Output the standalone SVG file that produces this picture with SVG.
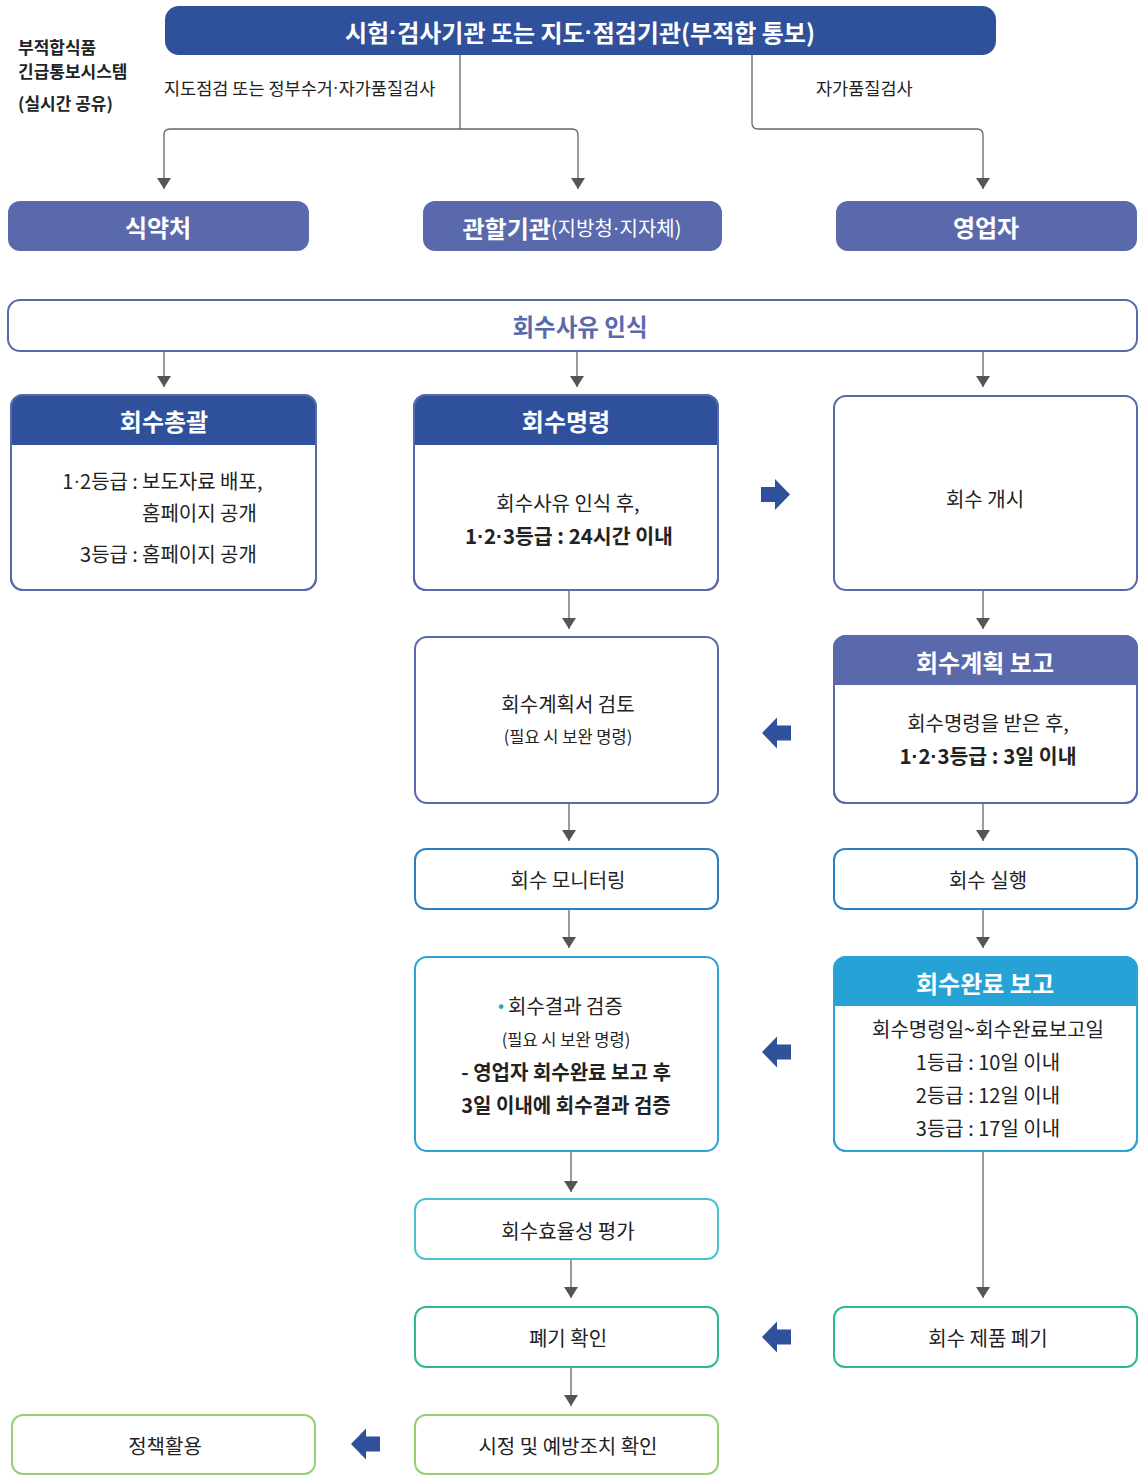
<svg xmlns="http://www.w3.org/2000/svg" width="1143" height="1476" viewBox="0 0 1143 1476">
<style>
text{font-family:"Noto Sans CJK KR","Noto Sans",sans-serif;dominant-baseline:central;fill:#222}
.c{text-anchor:middle}
.b{font-weight:700}
.w{fill:#fff}
.t{font-size:20px}
.s{font-size:16.5px}
.h{font-size:24px;font-weight:700;fill:#fff;text-anchor:middle}
.d{font-family:"Liberation Sans",sans-serif}
.conn{fill:none;stroke:#666;stroke-width:1.3}
.box{fill:#fff;stroke-width:2}
.ol{fill:none;stroke-width:2}
.blk{fill:#2f519c}
</style>
<defs>
<marker id="ah" markerUnits="userSpaceOnUse" markerWidth="12" markerHeight="16" refX="11" refY="7" orient="auto">
<path d="M0,0 L11,7 L0,14 z" fill="#555"/>
</marker>
<path id="la" d="M0,0 L15,-15.5 L15,-7.5 L29,-7.5 L29,7.5 L15,7.5 L15,15.5 z"/>
</defs>

<g id="legend">
<text x="18" y="46" class="b" style="font-size:17px">부적합식품</text>
<text x="18" y="70" class="b" style="font-size:17px">긴급통보시스템</text>
<text x="18" y="102" class="b" style="font-size:17px">(실시간 공유)</text>
</g>

<g id="n-source">
<rect x="165" y="6" width="831" height="49" rx="14" fill="#2f519c"/>
<text x="580" y="31" class="c b w" style="font-size:24px">시험<tspan class="d">·</tspan>검사기관 또는 지도<tspan class="d">·</tspan>점검기관(부적합 통보)</text>
</g>

<g id="connectors">
<path class="conn" d="M460,55 V129"/>
<path class="conn" marker-end="url(#ah)" d="M460,129 H170 Q164,129 164,135 V189"/>
<path class="conn" marker-end="url(#ah)" d="M460,129 H572 Q578,129 578,135 V189"/>
<path class="conn" marker-end="url(#ah)" d="M752,55 V123 Q752,129 758,129 H977 Q983,129 983,135 V189"/>
<path class="conn" marker-end="url(#ah)" d="M164,351 V387"/>
<path class="conn" marker-end="url(#ah)" d="M577,351 V387"/>
<path class="conn" marker-end="url(#ah)" d="M983,351 V387"/>
<path class="conn" marker-end="url(#ah)" d="M569,590 V629"/>
<path class="conn" marker-end="url(#ah)" d="M983,590 V629"/>
<path class="conn" marker-end="url(#ah)" d="M569,803 V841"/>
<path class="conn" marker-end="url(#ah)" d="M983,803 V841"/>
<path class="conn" marker-end="url(#ah)" d="M569,909 V948"/>
<path class="conn" marker-end="url(#ah)" d="M983,909 V948"/>
<path class="conn" marker-end="url(#ah)" d="M571,1151 V1192"/>
<path class="conn" marker-end="url(#ah)" d="M983,1151 V1298"/>
<path class="conn" marker-end="url(#ah)" d="M571,1259 V1298"/>
<path class="conn" marker-end="url(#ah)" d="M571,1367 V1406"/>
<text x="164" y="87" style="font-size:17.5px">지도점검 또는 정부수거<tspan class="d">·</tspan>자가품질검사</text>
<text x="816" y="87" style="font-size:17.5px">자가품질검사</text>
<path class="blk" d="M790,494.5 L775,479 L775,487 L761,487 L761,502 L775,502 L775,510 z"/>
<use href="#la" class="blk" x="762" y="733"/>
<use href="#la" class="blk" x="762" y="1052"/>
<use href="#la" class="blk" x="762" y="1337"/>
<use href="#la" class="blk" x="351" y="1444"/>
</g>

<g id="n-mfds">
<rect x="8" y="201" width="301" height="50" rx="12" fill="#5a69ab"/>
<text x="158" y="226" class="h">식약처</text>
</g>
<g id="n-local">
<rect x="423" y="201" width="299" height="50" rx="12" fill="#5a69ab"/>
<text x="572" y="227" class="c w"><tspan class="b" style="font-size:24px">관할기관</tspan><tspan style="font-size:20px">(지방청<tspan class="d">·</tspan>지자체)</tspan></text>
</g>
<g id="n-biz">
<rect x="836" y="201" width="301" height="50" rx="12" fill="#5a69ab"/>
<text x="986" y="226" class="h">영업자</text>
</g>

<g id="n-recognize">
<rect x="8" y="300" width="1129" height="51" rx="12" fill="#fff" stroke="#5a69ab" stroke-width="2"/>
<text x="580" y="326" class="c b" style="font-size:23.5px;fill:#5a69ab">회수사유 인식</text>
</g>

<g id="n-overall">
<rect x="11" y="395" width="305" height="195" rx="12" class="box" stroke="#5a69ab"/>
<path d="M11,445 V407 Q11,395 23,395 H304 Q316,395 316,407 V445 z" fill="#2f519c"/>
<rect x="11" y="395" width="305" height="195" rx="12" class="ol" stroke="#5a69ab"/>
<text x="164" y="420" class="h">회수총괄</text>
<text x="128" y="480" class="t" style="text-anchor:end">1<tspan class="d">·</tspan>2등급</text>
<text x="135" y="480" class="t c">:</text>
<text x="142" y="480" class="t">보도자료 배포,</text>
<text x="142" y="512" class="t">홈페이지 공개</text>
<text x="128" y="553" class="t" style="text-anchor:end">3등급</text>
<text x="135" y="553" class="t c">:</text>
<text x="142" y="553" class="t">홈페이지 공개</text>
</g>

<g id="n-order">
<rect x="414" y="395" width="304" height="195" rx="12" class="box" stroke="#5a69ab"/>
<path d="M414,445 V407 Q414,395 426,395 H706 Q718,395 718,407 V445 z" fill="#2f519c"/>
<rect x="414" y="395" width="304" height="195" rx="12" class="ol" stroke="#5a69ab"/>
<text x="566" y="420" class="h">회수명령</text>
<text x="568" y="502" class="t c">회수사유 인식 후,</text>
<text x="569" y="535" class="t c b" style="font-size:20.5px">1<tspan class="d">·</tspan>2<tspan class="d">·</tspan>3등급 : 24시간 이내</text>
</g>

<g id="n-start">
<rect x="834" y="396" width="303" height="194" rx="12" class="box" stroke="#5a69ab"/>
<text x="985" y="498" class="t c">회수 개시</text>
</g>

<g id="n-review">
<rect x="415" y="637" width="303" height="166" rx="12" class="box" stroke="#5a69ab"/>
<text x="568" y="703" class="t c">회수계획서 검토</text>
<text x="568" y="736" class="s c">(필요 시 보완 명령)</text>
</g>

<g id="n-plan">
<rect x="834" y="636" width="303" height="167" rx="12" class="box" stroke="#5a69ab"/>
<path d="M834,685 V648 Q834,636 846,636 H1125 Q1137,636 1137,648 V685 z" fill="#5a69ab"/>
<rect x="834" y="636" width="303" height="167" rx="12" class="ol" stroke="#5a69ab"/>
<text x="985" y="661" class="h">회수계획 보고</text>
<text x="988" y="722" class="t c">회수명령을 받은 후,</text>
<text x="988" y="755" class="t c b" style="font-size:20.5px">1<tspan class="d">·</tspan>2<tspan class="d">·</tspan>3등급 : 3일 이내</text>
</g>

<g id="n-monitor">
<rect x="415" y="849" width="303" height="60" rx="11" class="box" stroke="#2b80c4"/>
<text x="568" y="879" class="t c">회수 모니터링</text>
</g>

<g id="n-exec">
<rect x="834" y="849" width="303" height="60" rx="11" class="box" stroke="#2b80c4"/>
<text x="988" y="879" class="t c">회수 실행</text>
</g>

<g id="n-verify">
<rect x="415" y="957" width="303" height="194" rx="12" class="box" stroke="#2aa3d8"/>
<text x="501" y="1004" class="c" style="font-size:18px;fill:#27a2d6">•</text>
<text x="508" y="1005" class="t">회수결과 검증</text>
<text x="566" y="1039" class="s c">(필요 시 보완 명령)</text>
<text x="566" y="1071" class="t c b">- 영업자 회수완료 보고 후</text>
<text x="566" y="1104" class="t c b">3일 이내에 회수결과 검증</text>
</g>

<g id="n-complete">
<rect x="834" y="957" width="303" height="194" rx="12" class="box" stroke="#2aa3d8"/>
<path d="M834,1006 V969 Q834,957 846,957 H1125 Q1137,957 1137,969 V1006 z" fill="#27a2d6"/>
<rect x="834" y="957" width="303" height="194" rx="12" class="ol" stroke="#2aa3d8"/>
<text x="985" y="982" class="h">회수완료 보고</text>
<text x="988" y="1028" class="t c">회수명령일~회수완료보고일</text>
<text x="988" y="1061" class="t c">1등급 : 10일 이내</text>
<text x="988" y="1094" class="t c">2등급 : 12일 이내</text>
<text x="988" y="1127" class="t c">3등급 : 17일 이내</text>
</g>

<g id="n-efficiency">
<rect x="415" y="1199" width="303" height="60" rx="11" class="box" stroke="#4cc1cf"/>
<text x="568" y="1230" class="t c">회수효율성 평가</text>
</g>

<g id="n-dispose-check">
<rect x="415" y="1307" width="303" height="60" rx="11" class="box" stroke="#2eb898"/>
<text x="568" y="1337" class="t c">폐기 확인</text>
</g>

<g id="n-dispose">
<rect x="834" y="1307" width="303" height="60" rx="11" class="box" stroke="#2eb898"/>
<text x="988" y="1337" class="t c">회수 제품 폐기</text>
</g>

<g id="n-correct">
<rect x="415" y="1415" width="303" height="59" rx="11" class="box" stroke="#95d072"/>
<text x="568" y="1445" class="t c">시정 및 예방조치 확인</text>
</g>

<g id="n-policy">
<rect x="12" y="1415" width="303" height="59" rx="11" class="box" stroke="#95d072"/>
<text x="165" y="1445" class="t c">정책활용</text>
</g>
</svg>
